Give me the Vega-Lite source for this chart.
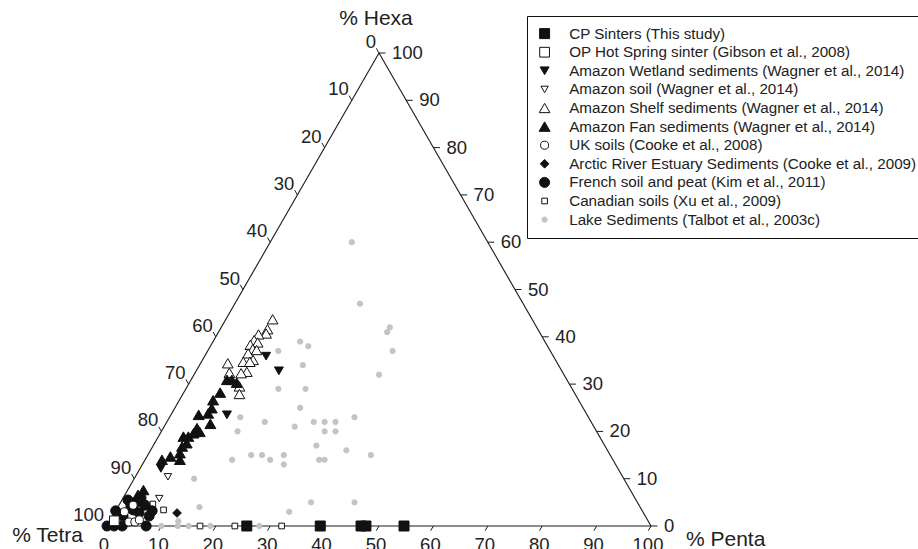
{
  "$schema": "https://vega.github.io/schema/vega-lite/v6.json",
  "width": 544,
  "height": 473,
  "autosize": "none",
  "padding": {"left": 107, "top": 53, "right": 267, "bottom": 23},
  "background": "white",
  "config": {"view": {"stroke": null}, "font": "Liberation Sans", "text": {"font": "Liberation Sans", "color": "#222"}},
  "datasets": {
    "edges": [
      {"p1": 0, "h1": 0, "p2": 100, "h2": 0},
      {"p1": 100, "h1": 0, "p2": 0, "h2": 100},
      {"p1": 0, "h1": 100, "p2": 0, "h2": 0}
    ],
    "ticks": [{"v": 0}, {"v": 10}, {"v": 20}, {"v": 30}, {"v": 40}, {"v": 50}, {"v": 60}, {"v": 70}, {"v": 80}, {"v": 90}, {"v": 100}],
    "pts": [
      {"series": "Lake Sediments (Talbot et al., 2003c)", "p": 15, "h": 60},
      {"series": "Lake Sediments (Talbot et al., 2003c)", "p": 23, "h": 47},
      {"series": "Lake Sediments (Talbot et al., 2003c)", "p": 31, "h": 42},
      {"series": "Lake Sediments (Talbot et al., 2003c)", "p": 31, "h": 41},
      {"series": "Lake Sediments (Talbot et al., 2003c)", "p": 34, "h": 37},
      {"series": "Lake Sediments (Talbot et al., 2003c)", "p": 16, "h": 39},
      {"series": "Lake Sediments (Talbot et al., 2003c)", "p": 18, "h": 38},
      {"series": "Lake Sediments (Talbot et al., 2003c)", "p": 13, "h": 37},
      {"series": "Lake Sediments (Talbot et al., 2003c)", "p": 19, "h": 34},
      {"series": "Lake Sediments (Talbot et al., 2003c)", "p": 34, "h": 32},
      {"series": "Lake Sediments (Talbot et al., 2003c)", "p": 17, "h": 29},
      {"series": "Lake Sediments (Talbot et al., 2003c)", "p": 22, "h": 29},
      {"series": "Lake Sediments (Talbot et al., 2003c)", "p": 23, "h": 25},
      {"series": "Lake Sediments (Talbot et al., 2003c)", "p": 13, "h": 23},
      {"series": "Lake Sediments (Talbot et al., 2003c)", "p": 34, "h": 23},
      {"series": "Lake Sediments (Talbot et al., 2003c)", "p": 18, "h": 22},
      {"series": "Lake Sediments (Talbot et al., 2003c)", "p": 27, "h": 22},
      {"series": "Lake Sediments (Talbot et al., 2003c)", "p": 29, "h": 22},
      {"series": "Lake Sediments (Talbot et al., 2003c)", "p": 31, "h": 22},
      {"series": "Lake Sediments (Talbot et al., 2003c)", "p": 14, "h": 20},
      {"series": "Lake Sediments (Talbot et al., 2003c)", "p": 24, "h": 21},
      {"series": "Lake Sediments (Talbot et al., 2003c)", "p": 30, "h": 20},
      {"series": "Lake Sediments (Talbot et al., 2003c)", "p": 32, "h": 20},
      {"series": "Lake Sediments (Talbot et al., 2003c)", "p": 30, "h": 17},
      {"series": "Lake Sediments (Talbot et al., 2003c)", "p": 36, "h": 16},
      {"series": "Lake Sediments (Talbot et al., 2003c)", "p": 16, "h": 14},
      {"series": "Lake Sediments (Talbot et al., 2003c)", "p": 19, "h": 15},
      {"series": "Lake Sediments (Talbot et al., 2003c)", "p": 21, "h": 15},
      {"series": "Lake Sediments (Talbot et al., 2003c)", "p": 23, "h": 14},
      {"series": "Lake Sediments (Talbot et al., 2003c)", "p": 25, "h": 15},
      {"series": "Lake Sediments (Talbot et al., 2003c)", "p": 26, "h": 13},
      {"series": "Lake Sediments (Talbot et al., 2003c)", "p": 32, "h": 14},
      {"series": "Lake Sediments (Talbot et al., 2003c)", "p": 33, "h": 14},
      {"series": "Lake Sediments (Talbot et al., 2003c)", "p": 41, "h": 15},
      {"series": "Lake Sediments (Talbot et al., 2003c)", "p": 35, "h": 5},
      {"series": "Lake Sediments (Talbot et al., 2003c)", "p": 43, "h": 5},
      {"series": "Lake Sediments (Talbot et al., 2003c)", "p": 32, "h": 3},
      {"series": "Lake Sediments (Talbot et al., 2003c)", "p": 11, "h": 10},
      {"series": "Lake Sediments (Talbot et al., 2003c)", "p": 15, "h": 4},
      {"series": "Lake Sediments (Talbot et al., 2003c)", "p": 12.6, "h": 1},
      {"series": "Lake Sediments (Talbot et al., 2003c)", "p": 10, "h": 0},
      {"series": "Lake Sediments (Talbot et al., 2003c)", "p": 13, "h": 0},
      {"series": "Lake Sediments (Talbot et al., 2003c)", "p": 15, "h": 0},
      {"series": "Lake Sediments (Talbot et al., 2003c)", "p": 19, "h": 0},
      {"series": "Lake Sediments (Talbot et al., 2003c)", "p": 28, "h": 0},
      {"series": "Canadian soils (Xu et al., 2009)", "p": 6.1, "h": 4.65},
      {"series": "Canadian soils (Xu et al., 2009)", "p": 8.7, "h": 3.4},
      {"series": "Canadian soils (Xu et al., 2009)", "p": 17.1, "h": 0},
      {"series": "Canadian soils (Xu et al., 2009)", "p": 23.5, "h": 0},
      {"series": "Canadian soils (Xu et al., 2009)", "p": 32.1, "h": 0},
      {"series": "CP Sinters (This study)", "p": 25.7, "h": 0},
      {"series": "CP Sinters (This study)", "p": 39.2, "h": 0},
      {"series": "CP Sinters (This study)", "p": 46.7, "h": 0},
      {"series": "CP Sinters (This study)", "p": 47.6, "h": 0},
      {"series": "CP Sinters (This study)", "p": 54.6, "h": 0},
      {"series": "Amazon Shelf sediments (Wagner et al., 2014)", "p": 8.6, "h": 43.7},
      {"series": "Amazon Shelf sediments (Wagner et al., 2014)", "p": 8.7, "h": 41.6},
      {"series": "Amazon Shelf sediments (Wagner et al., 2014)", "p": 8.9, "h": 40.7},
      {"series": "Amazon Shelf sediments (Wagner et al., 2014)", "p": 7.6, "h": 40.5},
      {"series": "Amazon Shelf sediments (Wagner et al., 2014)", "p": 7.4, "h": 39.3},
      {"series": "Amazon Shelf sediments (Wagner et al., 2014)", "p": 8.3, "h": 38.8},
      {"series": "Amazon Shelf sediments (Wagner et al., 2014)", "p": 7.2, "h": 38.3},
      {"series": "Amazon Shelf sediments (Wagner et al., 2014)", "p": 8.1, "h": 37.4},
      {"series": "Amazon Shelf sediments (Wagner et al., 2014)", "p": 8.9, "h": 37.2},
      {"series": "Amazon Shelf sediments (Wagner et al., 2014)", "p": 7.7, "h": 36.5},
      {"series": "Amazon Shelf sediments (Wagner et al., 2014)", "p": 9.3, "h": 35.1},
      {"series": "Amazon Shelf sediments (Wagner et al., 2014)", "p": 7.7, "h": 34.7},
      {"series": "Amazon Shelf sediments (Wagner et al., 2014)", "p": 8.9, "h": 34.7},
      {"series": "Amazon Shelf sediments (Wagner et al., 2014)", "p": 5.0, "h": 34.4},
      {"series": "Amazon Shelf sediments (Wagner et al., 2014)", "p": 6.3, "h": 32.4},
      {"series": "Amazon Shelf sediments (Wagner et al., 2014)", "p": 9.4, "h": 32.6},
      {"series": "Amazon Shelf sediments (Wagner et al., 2014)", "p": 8.5, "h": 32.3},
      {"series": "Amazon Shelf sediments (Wagner et al., 2014)", "p": 9.6, "h": 29.5},
      {"series": "Amazon Shelf sediments (Wagner et al., 2014)", "p": 10.4, "h": 27.9},
      {"series": "Amazon Fan sediments (Wagner et al., 2014)", "p": 3.1, "h": 14.0},
      {"series": "Amazon Fan sediments (Wagner et al., 2014)", "p": 4.3, "h": 14.7},
      {"series": "Amazon Fan sediments (Wagner et al., 2014)", "p": 6.4, "h": 14.0},
      {"series": "Amazon Fan sediments (Wagner et al., 2014)", "p": 5.7, "h": 15.4},
      {"series": "Amazon Fan sediments (Wagner et al., 2014)", "p": 5.4, "h": 16.8},
      {"series": "Amazon Fan sediments (Wagner et al., 2014)", "p": 5.9, "h": 17.5},
      {"series": "Amazon Fan sediments (Wagner et al., 2014)", "p": 4.6, "h": 18.9},
      {"series": "Amazon Fan sediments (Wagner et al., 2014)", "p": 5.5, "h": 18.9},
      {"series": "Amazon Fan sediments (Wagner et al., 2014)", "p": 6.1, "h": 19.6},
      {"series": "Amazon Fan sediments (Wagner et al., 2014)", "p": 6.2, "h": 20.7},
      {"series": "Amazon Fan sediments (Wagner et al., 2014)", "p": 7.1, "h": 19.9},
      {"series": "Amazon Fan sediments (Wagner et al., 2014)", "p": 5.1, "h": 23.5},
      {"series": "Amazon Fan sediments (Wagner et al., 2014)", "p": 8.2, "h": 21.6},
      {"series": "Amazon Fan sediments (Wagner et al., 2014)", "p": 6.7, "h": 23.8},
      {"series": "Amazon Fan sediments (Wagner et al., 2014)", "p": 6.8, "h": 24.9},
      {"series": "Amazon Fan sediments (Wagner et al., 2014)", "p": 6.2, "h": 26.6},
      {"series": "Amazon Fan sediments (Wagner et al., 2014)", "p": 6.7, "h": 28.2},
      {"series": "Amazon Fan sediments (Wagner et al., 2014)", "p": 6.6, "h": 30.9},
      {"series": "Amazon Fan sediments (Wagner et al., 2014)", "p": 7.5, "h": 30.9},
      {"series": "Amazon Fan sediments (Wagner et al., 2014)", "p": 8.7, "h": 30.3},
      {"series": "Amazon Fan sediments (Wagner et al., 2014)", "p": 2.9, "h": 7.6},
      {"series": "Amazon Fan sediments (Wagner et al., 2014)", "p": 2.4, "h": 6.6},
      {"series": "Amazon Wetland sediments (Wagner et al., 2014)", "p": 11.3, "h": 35.9},
      {"series": "Amazon Wetland sediments (Wagner et al., 2014)", "p": 15.2, "h": 32.8},
      {"series": "Amazon Wetland sediments (Wagner et al., 2014)", "p": 10.3, "h": 23.5},
      {"series": "Amazon Wetland sediments (Wagner et al., 2014)", "p": 3.8, "h": 12.2},
      {"series": "Amazon soil (Wagner et al., 2014)", "p": 6.0, "h": 10.4},
      {"series": "Amazon soil (Wagner et al., 2014)", "p": 6.7, "h": 5.8},
      {"series": "Arctic River Estuary Sediments (Cooke et al., 2009)", "p": 11.5, "h": 2.75},
      {"series": "French soil and peat (Kim et al., 2011)", "p": 0, "h": 0},
      {"series": "French soil and peat (Kim et al., 2011)", "p": 1.3, "h": 0},
      {"series": "French soil and peat (Kim et al., 2011)", "p": 2.8, "h": 0},
      {"series": "French soil and peat (Kim et al., 2011)", "p": 7.2, "h": 0},
      {"series": "French soil and peat (Kim et al., 2011)", "p": 0, "h": 3.2},
      {"series": "French soil and peat (Kim et al., 2011)", "p": 1.9, "h": 2.1},
      {"series": "French soil and peat (Kim et al., 2011)", "p": 2.3, "h": 4.2},
      {"series": "French soil and peat (Kim et al., 2011)", "p": 3.0, "h": 5.1},
      {"series": "French soil and peat (Kim et al., 2011)", "p": 3.3, "h": 5.9},
      {"series": "French soil and peat (Kim et al., 2011)", "p": 3.1, "h": 3.4},
      {"series": "French soil and peat (Kim et al., 2011)", "p": 6.7, "h": 2.1},
      {"series": "French soil and peat (Kim et al., 2011)", "p": 6.7, "h": 3.2},
      {"series": "French soil and peat (Kim et al., 2011)", "p": 4.8, "h": 4.4},
      {"series": "French soil and peat (Kim et al., 2011)", "p": 1.1, "h": 5.5},
      {"series": "French soil and peat (Kim et al., 2011)", "p": 4.5, "h": 2.8},
      {"series": "UK soils (Cooke et al., 2008)", "p": 3.6, "h": 0.85},
      {"series": "UK soils (Cooke et al., 2008)", "p": 4.7, "h": 0.85},
      {"series": "UK soils (Cooke et al., 2008)", "p": 5.3, "h": 1.3},
      {"series": "UK soils (Cooke et al., 2008)", "p": 1.7, "h": 3.0},
      {"series": "UK soils (Cooke et al., 2008)", "p": 2.6, "h": 4.4},
      {"series": "OP Hot Spring sinter (Gibson et al., 2008)", "p": 0.8, "h": 1.1}
    ]
  },
  "layer": [
    {
      "data": {"name": "edges"},
      "transform": [
        {"calculate": "datum.p1 + datum.h1 / 2", "as": "X1"},
        {"calculate": "datum.h1", "as": "Y1"},
        {"calculate": "datum.p2 + datum.h2 / 2", "as": "X2"},
        {"calculate": "datum.h2", "as": "Y2"}
      ],
      "mark": {"type": "rule", "color": "#1a1a1a", "strokeWidth": 1.1},
      "encoding": {
        "x": {"field": "X1", "type": "quantitative", "scale": {"domain": [0, 100], "nice": false, "zero": false}, "axis": null},
        "y": {"field": "Y1", "type": "quantitative", "scale": {"domain": [0, 100], "nice": false, "zero": false}, "axis": null},
        "x2": {"field": "X2"},
        "y2": {"field": "Y2"}
      }
    },
    {
      "data": {"name": "ticks"},
      "transform": [
        {"calculate": "datum.v", "as": "X1"},
        {"calculate": "0", "as": "Y1"},
        {"calculate": "datum.v - 0.5", "as": "X2"},
        {"calculate": "-1", "as": "Y2"}
      ],
      "mark": {"type": "rule", "color": "#1a1a1a", "strokeWidth": 1},
      "encoding": {
        "x": {"field": "X1", "type": "quantitative", "axis": null},
        "y": {"field": "Y1", "type": "quantitative", "axis": null},
        "x2": {"field": "X2"},
        "y2": {"field": "Y2"}
      }
    },
    {
      "data": {"name": "ticks"},
      "transform": [
        {"calculate": "100 - datum.v / 2", "as": "X1"},
        {"calculate": "datum.v", "as": "Y1"},
        {"calculate": "100 - datum.v / 2 + 1.2", "as": "X2"}
      ],
      "mark": {"type": "rule", "color": "#1a1a1a", "strokeWidth": 1},
      "encoding": {
        "x": {"field": "X1", "type": "quantitative", "axis": null},
        "y": {"field": "Y1", "type": "quantitative", "axis": null},
        "x2": {"field": "X2"},
        "y2": {"field": "Y1"}
      }
    },
    {
      "data": {"name": "ticks"},
      "transform": [
        {"calculate": "(100 - datum.v) / 2", "as": "X1"},
        {"calculate": "100 - datum.v", "as": "Y1"},
        {"calculate": "(100 - datum.v) / 2 - 0.5", "as": "X2"},
        {"calculate": "100 - datum.v + 1", "as": "Y2"}
      ],
      "mark": {"type": "rule", "color": "#1a1a1a", "strokeWidth": 1},
      "encoding": {
        "x": {"field": "X1", "type": "quantitative", "axis": null},
        "y": {"field": "Y1", "type": "quantitative", "axis": null},
        "x2": {"field": "X2"},
        "y2": {"field": "Y2"}
      }
    },
    {
      "data": {"name": "ticks"},
      "transform": [
        {"calculate": "datum.v", "as": "X"},
        {"calculate": "0", "as": "Y"}
      ],
      "mark": {"type": "text", "fontSize": 18.5, "align": "center", "baseline": "alphabetic", "dx": -3, "dy": 25},
      "encoding": {
        "x": {"field": "X", "type": "quantitative", "axis": null},
        "y": {"field": "Y", "type": "quantitative", "axis": null},
        "text": {"field": "v", "type": "nominal"}
      }
    },
    {
      "data": {"name": "ticks"},
      "transform": [
        {"calculate": "100 - datum.v / 2", "as": "X"},
        {"calculate": "datum.v", "as": "Y"}
      ],
      "mark": {"type": "text", "fontSize": 18.5, "align": "left", "baseline": "middle", "dx": 13, "dy": 0},
      "encoding": {
        "x": {"field": "X", "type": "quantitative", "axis": null},
        "y": {"field": "Y", "type": "quantitative", "axis": null},
        "text": {"field": "v", "type": "nominal"}
      }
    },
    {
      "data": {"name": "ticks"},
      "transform": [
        {"calculate": "(100 - datum.v) / 2", "as": "X"},
        {"calculate": "100 - datum.v", "as": "Y"}
      ],
      "mark": {"type": "text", "fontSize": 18.5, "align": "right", "baseline": "middle", "dx": -3, "dy": -11},
      "encoding": {
        "x": {"field": "X", "type": "quantitative", "axis": null},
        "y": {"field": "Y", "type": "quantitative", "axis": null},
        "text": {"field": "v", "type": "nominal"}
      }
    },
    {
      "data": {"values": [{"t": "% Hexa", "X": 50, "Y": 100}]},
      "mark": {"type": "text", "fontSize": 21, "align": "center", "baseline": "middle", "dx": -3, "dy": -34},
      "encoding": {
        "x": {"field": "X", "type": "quantitative", "axis": null},
        "y": {"field": "Y", "type": "quantitative", "axis": null},
        "text": {"field": "t", "type": "nominal"}
      }
    },
    {
      "data": {"values": [{"t": "% Tetra", "X": 0, "Y": 0}]},
      "mark": {"type": "text", "fontSize": 21, "align": "right", "baseline": "middle", "dx": -24, "dy": 10},
      "encoding": {
        "x": {"field": "X", "type": "quantitative", "axis": null},
        "y": {"field": "Y", "type": "quantitative", "axis": null},
        "text": {"field": "t", "type": "nominal"}
      }
    },
    {
      "data": {"values": [{"t": "% Penta", "X": 100, "Y": 0}]},
      "mark": {"type": "text", "fontSize": 21, "align": "left", "baseline": "middle", "dx": 35, "dy": 14},
      "encoding": {
        "x": {"field": "X", "type": "quantitative", "axis": null},
        "y": {"field": "Y", "type": "quantitative", "axis": null},
        "text": {"field": "t", "type": "nominal"}
      }
    },
    {
      "data": {"name": "pts"},
      "transform": [
        {"calculate": "datum.p + datum.h / 2", "as": "X"},
        {"calculate": "datum.h", "as": "Y"}
      ],
      "mark": {"type": "point", "filled": true, "opacity": 1, "strokeWidth": 1},
      "encoding": {
        "x": {"field": "X", "type": "quantitative", "axis": null},
        "y": {"field": "Y", "type": "quantitative", "axis": null},
        "shape": {"field": "series", "type": "nominal", "title": null,
          "scale": {"domain": ["CP Sinters (This study)", "OP Hot Spring sinter (Gibson et al., 2008)", "Amazon Wetland sediments (Wagner et al., 2014)", "Amazon soil (Wagner et al., 2014)", "Amazon Shelf sediments (Wagner et al., 2014)", "Amazon Fan sediments (Wagner et al., 2014)", "UK soils (Cooke et al., 2008)", "Arctic River Estuary Sediments (Cooke et al., 2009)", "French soil and peat (Kim et al., 2011)", "Canadian soils (Xu et al., 2009)", "Lake Sediments (Talbot et al., 2003c)"],
            "range": ["square", "square", "triangle-down", "triangle-down", "triangle-up", "triangle-up", "circle", "diamond", "circle", "square", "circle"]}},
        "fill": {"field": "series", "type": "nominal", "title": null,
          "scale": {"domain": ["CP Sinters (This study)", "OP Hot Spring sinter (Gibson et al., 2008)", "Amazon Wetland sediments (Wagner et al., 2014)", "Amazon soil (Wagner et al., 2014)", "Amazon Shelf sediments (Wagner et al., 2014)", "Amazon Fan sediments (Wagner et al., 2014)", "UK soils (Cooke et al., 2008)", "Arctic River Estuary Sediments (Cooke et al., 2009)", "French soil and peat (Kim et al., 2011)", "Canadian soils (Xu et al., 2009)", "Lake Sediments (Talbot et al., 2003c)"],
            "range": ["#111111", "#ffffff", "#111111", "#ffffff", "#ffffff", "#111111", "#ffffff", "#111111", "#111111", "#ffffff", "#c4c4c4"]}},
        "stroke": {"field": "series", "type": "nominal", "title": null,
          "scale": {"domain": ["CP Sinters (This study)", "OP Hot Spring sinter (Gibson et al., 2008)", "Amazon Wetland sediments (Wagner et al., 2014)", "Amazon soil (Wagner et al., 2014)", "Amazon Shelf sediments (Wagner et al., 2014)", "Amazon Fan sediments (Wagner et al., 2014)", "UK soils (Cooke et al., 2008)", "Arctic River Estuary Sediments (Cooke et al., 2009)", "French soil and peat (Kim et al., 2011)", "Canadian soils (Xu et al., 2009)", "Lake Sediments (Talbot et al., 2003c)"],
            "range": ["#111111", "#111111", "#111111", "#111111", "#111111", "#111111", "#111111", "#111111", "#111111", "#111111", "#c4c4c4"]}},
        "size": {"field": "series", "type": "nominal", "title": null,
          "scale": {"type": "ordinal", "domain": ["CP Sinters (This study)", "OP Hot Spring sinter (Gibson et al., 2008)", "Amazon Wetland sediments (Wagner et al., 2014)", "Amazon soil (Wagner et al., 2014)", "Amazon Shelf sediments (Wagner et al., 2014)", "Amazon Fan sediments (Wagner et al., 2014)", "UK soils (Cooke et al., 2008)", "Arctic River Estuary Sediments (Cooke et al., 2009)", "French soil and peat (Kim et al., 2011)", "Canadian soils (Xu et al., 2009)", "Lake Sediments (Talbot et al., 2003c)"],
            "range": [100, 95, 80, 55, 115, 120, 65, 75, 100, 32, 28]},
          "legend": {"orient": "none", "legendX": 420, "legendY": -37, "direction": "vertical", "strokeColor": "#111111", "fillColor": "white", "padding": 10, "labelFontSize": 15.2, "labelFont": "Liberation Sans", "labelColor": "#222", "rowPadding": 2.6, "labelOffset": 17, "labelLimit": 0, "symbolStrokeWidth": 1}}
      }
    }
  ]
}
